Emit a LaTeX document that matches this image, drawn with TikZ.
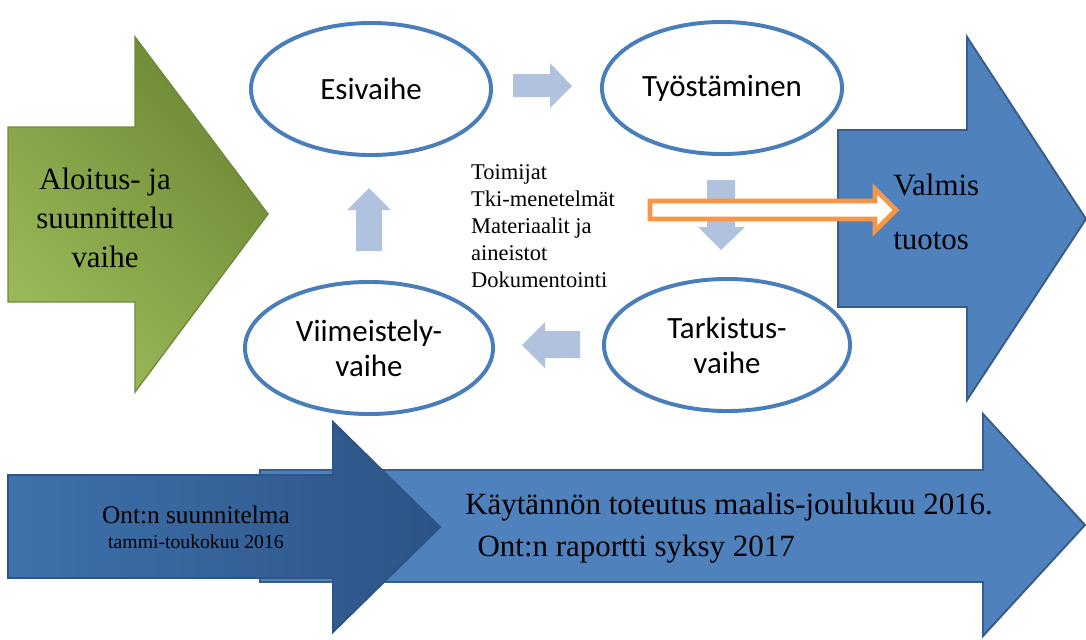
\documentclass[tikz,border=0pt]{standalone}
\usepackage{fontspec}
\setmainfont{Liberation Serif}
\newfontfamily\calibri{Carlito}
\usetikzlibrary{shapes.geometric}

\definecolor{renkaansini}{RGB}{74,126,187}
\definecolor{perussini}{RGB}{79,129,189}
\definecolor{reunasini}{RGB}{56,93,138}
\definecolor{tummasini}{RGB}{44,84,134}
\definecolor{vaaleasini}{RGB}{63,113,172}
\definecolor{haalea}{RGB}{176,194,222}
\definecolor{oranssi}{RGB}{247,150,70}
\definecolor{oliivi}{RGB}{155,187,89}
\definecolor{tummaoliivi}{RGB}{108,136,52}
\definecolor{oliivireuna}{RGB}{113,137,63}

\begin{document}
\begin{tikzpicture}[x=0.025cm,y=-0.025cm,
	vaihe/.style={shape=ellipse,draw=renkaansini,line width=2.8pt,fill=white,
		minimum width=6cm,minimum height=3.3cm,inner sep=0pt,align=center,
		font=\calibri\fontsize{22}{25}\selectfont},
	pieni/.style={fill=haalea},
	isoteksti/.style={inner sep=0pt,font=\fontsize{22}{27.7}\selectfont}]
	\useasboundingbox (0,0) rectangle (1086,639);

	% iso vihrea nuoli
	\path[draw=oliivireuna,line width=1pt,top color=tummaoliivi,bottom color=oliivi,shading angle=-45]
		(8,127) -- (135,127) -- (135,37) -- (268,214) -- (135,392) -- (135,302) -- (8,302) -- cycle;
	\node (aloitus) [isoteksti,align=center] at (105,218) {Aloitus- ja\\suunnittelu\\vaihe};

	% oikea sininen nuoli
	\path[draw=reunasini,line width=1.4pt,fill=perussini]
		(838,130) -- (967,130) -- (967,37) -- (1086,219) -- (967,400) -- (967,307) -- (838,307) -- cycle;
	\node (valmis) [isoteksti,align=left,anchor=west,font=\fontsize{22}{38.4}\selectfont] at (893,212) {Valmis\\tuotos};

	% vaiheet
	\node (esi) [vaihe] at (371,89) {Esivaihe};
	\node (tyo) [vaihe] at (722,88) {Työstäminen};
	\node (tark) [vaihe,minimum width=6.15cm] at (727,345) {Tarkistus-\\vaihe};
	\node (viim) [vaihe,minimum width=6.2cm] at (369,348) {Viimeistely-\\vaihe};

	\path[pieni] (513,74) -- (550,74) -- (550,63) -- (572,86) -- (550,108) -- (550,97) -- (513,97) -- cycle;
	\path[pieni] (707,180) -- (735,180) -- (735,227) -- (745,227) -- (721,250) -- (698,227) -- (707,227) -- cycle;
	\path[pieni] (580,331) -- (545,331) -- (545,322) -- (522,345) -- (545,368) -- (545,358) -- (580,358) -- cycle;
	\path[pieni] (356,251) -- (382,251) -- (382,210) -- (391,210) -- (369,188) -- (347,210) -- (356,210) -- cycle;

	\node (tekijat) [fill=white,inner sep=2pt,anchor=west,align=left,font=\fontsize{16}{19.2}\selectfont] at (468,226)
		{Toimijat\\Tki-menetelmät\\Materiaalit ja\\aineistot\\Dokumentointi};

	% oranssi nuoli
	\path[draw=oranssi,line width=3.5pt,fill=white]
		(650,201) -- (875,201) -- (875,189) -- (896,210) -- (875,231) -- (875,219) -- (650,219) -- cycle;

	% alarivi
	\path[draw=reunasini,line width=1.4pt,fill=perussini]
		(260,470) -- (983,470) -- (983,414) -- (1085,525) -- (983,636) -- (983,582) -- (260,582) -- cycle;
	\path[draw=tummasini,line width=1.4pt,left color=vaaleasini,right color=tummasini]
		(8,475) -- (333,475) -- (333,422) -- (440,527) -- (333,632) -- (333,578) -- (8,578) -- cycle;
	\node (suunnitelma) [inner sep=0pt,align=center,font=\fontsize{18}{18}\selectfont] at (196,527)
		{Ont:n suunnitelma\\{\fontsize{14}{18}\selectfont tammi-toukokuu 2016}};
	\node (toteutus) [isoteksti,anchor=west,align=left,font=\fontsize{22}{30}\selectfont] at (465,528)
		{Käytännön toteutus maalis-joulukuu 2016.\\\hspace*{22\pgflinewidth}Ont:n raportti syksy 2017};
\end{tikzpicture}
\end{document}
